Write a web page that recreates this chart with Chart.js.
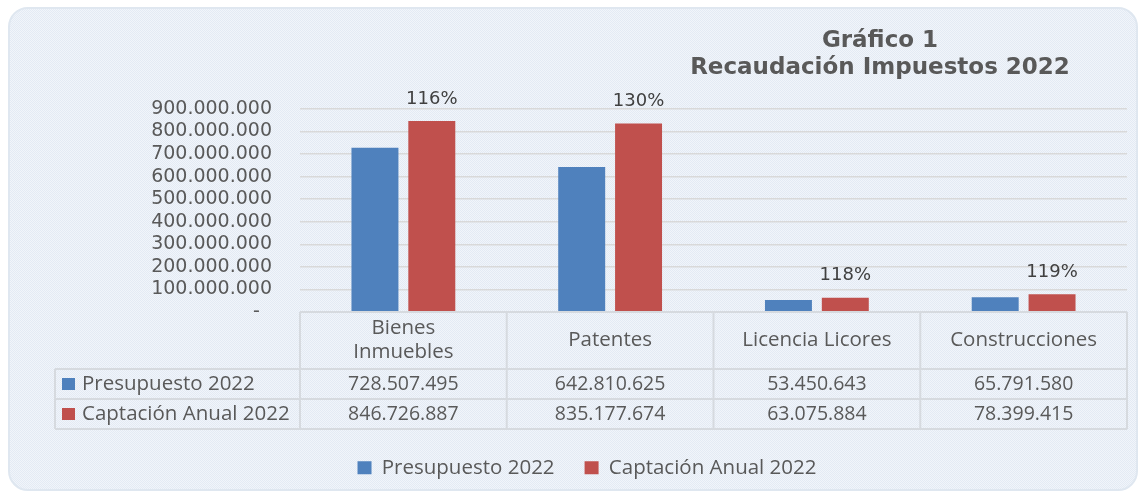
<!DOCTYPE html>
<html>
<head>
<meta charset="utf-8">
<script src="https://cdn.jsdelivr.net/npm/chart.js@4.4.0/dist/chart.umd.min.js"></script>
<style>
  html, body { margin: 0; padding: 0; background: #ffffff; }
  #wrap { position: relative; width: 1146px; height: 495px; overflow: hidden; background: #ffffff; }
  #card { position: absolute; left: 8px; top: 7px; width: 1130px; height: 484px; border-radius: 20px;
          border: 2px solid #dfe7f0; box-sizing: border-box;
          background: repeating-conic-gradient(#e3eaf4 0 25%, #f1f5fa 0 50%) 0 0 / 2px 2px; }
  canvas { position: absolute; left: 0; top: 0; }
</style>
</head>
<body>
<div id="wrap">
  <div id="card"></div>
  <canvas id="c" width="1146" height="495"></canvas>
</div>
<script>
const categories = [["Bienes", "Inmuebles"], ["Patentes"], ["Licencia Licores"], ["Construcciones"]];
const presupuesto2022 = [728507495, 642810625, 53450643, 65791580];
const captacion2022 = [846726887, 835177674, 63075884, 78399415];
const percentLabels = ["116%", "130%", "118%", "119%"];
const seriesNames = ["Presupuesto 2022", "Captación Anual 2022"];
const titleLines = ["Gráfico 1", "Recaudación Impuestos 2022"];
const yMax = 900000000;
const yStep = 100000000;

const BLUE = "#4F81BD";
const RED = "#C0504D";
const TEXT = "#595959";
const GRID = "#d9d9d9";
const GEO = "'DejaVu Sans', sans-serif";
const BODY = "'Open Sans', Lato, sans-serif";

function fmt(v) {
  return Math.round(v).toString().replace(/\B(?=(\d{3})+(?!\d))/g, ".");
}

const titlePlugin = {
  id: "titleDraw",
  afterDraw(chart) {
    const ctx = chart.ctx;
    ctx.save();
    ctx.fillStyle = TEXT;
    ctx.font = "bold 23px " + GEO;
    ctx.textAlign = "center";
    ctx.textBaseline = "middle";
    ctx.fillText(titleLines[0], 880, 41);
    ctx.fillText(titleLines[1], 880, 68);
    ctx.restore();
  }
};

const pctPlugin = {
  id: "pctLabels",
  afterDatasetsDraw(chart) {
    const ctx = chart.ctx;
    const meta = chart.getDatasetMeta(1);
    ctx.save();
    ctx.fillStyle = "#404040";
    ctx.font = "18px " + GEO;
    ctx.textAlign = "center";
    ctx.textBaseline = "middle";
    meta.data.forEach((bar, i) => {
      ctx.fillText(percentLabels[i], bar.x, bar.y - 22);
    });
    ctx.restore();
  }
};

const tablePlugin = {
  id: "dataTable",
  afterDraw(chart) {
    const ctx = chart.ctx;
    const area = chart.chartArea;
    const xs = chart.scales.x;
    const n = categories.length;
    const colW = (area.right - area.left) / n;
    const top = area.bottom;
    const headH = 57, rowH = 30;
    const labelLeft = 55;
    const r1 = top + headH, r2 = r1 + rowH, r3 = r2 + rowH;
    ctx.save();
    ctx.strokeStyle = "#d6dadf";
    ctx.lineWidth = 2;
    ctx.beginPath();
    ctx.moveTo(area.left, top); ctx.lineTo(area.right, top);
    [r1, r2, r3].forEach(y => { ctx.moveTo(labelLeft, y); ctx.lineTo(area.right, y); });
    for (let i = 0; i <= n; i++) {
      const x = area.left + i * colW;
      ctx.moveTo(x, top); ctx.lineTo(x, r3);
    }
    ctx.moveTo(labelLeft, r1); ctx.lineTo(labelLeft, r3);
    ctx.stroke();

    ctx.fillStyle = TEXT;
    ctx.textAlign = "center";
    ctx.textBaseline = "middle";
    categories.forEach((lines, i) => {
      const cx = xs.getPixelForValue(i);
      const mid = top + headH / 2;
      const lh = 24;
      ctx.font = "20.5px " + BODY;
      lines.forEach((t, j) => {
        ctx.fillText(t, cx, mid + (j - (lines.length - 1) / 2) * lh);
      });
      ctx.font = "19.5px " + BODY;
      ctx.fillText(fmt(presupuesto2022[i]), cx, r1 + rowH / 2);
      ctx.fillText(fmt(captacion2022[i]), cx, r2 + rowH / 2);
    });
    ctx.textAlign = "left";
    ctx.font = "20.5px " + BODY;
    [[BLUE, seriesNames[0], r1], [RED, seriesNames[1], r2]].forEach(([c, t, y]) => {
      ctx.fillStyle = c;
      ctx.fillRect(labelLeft + 7, y + rowH / 2 - 6, 13, 12);
      ctx.fillStyle = TEXT;
      ctx.fillText(t, labelLeft + 27, y + rowH / 2);
    });
    ctx.restore();
  }
};

new Chart(document.getElementById("c"), {
  type: "bar",
  data: {
    labels: categories,
    datasets: [
      { label: seriesNames[0], data: presupuesto2022, backgroundColor: BLUE,
        categoryPercentage: 0.55, barPercentage: 0.826 },
      { label: seriesNames[1], data: captacion2022, backgroundColor: RED,
        categoryPercentage: 0.55, barPercentage: 0.826 }
    ]
  },
  options: {
    responsive: false,
    animation: false,
    layout: { padding: { top: 109, right: 19, left: 47, bottom: 7 } },
    plugins: {
      title: { display: false },
      tooltip: { enabled: false },
      legend: {
        position: "bottom",
        labels: {
          color: TEXT,
          font: { family: BODY, size: 20.5 },
          boxWidth: 14, boxHeight: 13,
          padding: 30
        }
      }
    },
    scales: {
      x: {
        grid: { display: false },
        border: { display: false },
        ticks: { display: false },
        afterFit(scale) { scale.height = 115.5; }
      },
      y: {
        min: 0, max: yMax,
        border: { display: false },
        grid: { color: GRID, lineWidth: 1.5, drawTicks: false },
        ticks: {
          stepSize: yStep,
          autoSkip: false,
          padding: 28,
          color: TEXT,
          font: { family: GEO, size: 19 },
          callback: v => v === 0 ? "-  " : fmt(v)
        },
        afterFit(scale) { scale.width = 253; }
      }
    }
  },
  plugins: [titlePlugin, pctPlugin, tablePlugin]
});
</script>
</body>
</html>
